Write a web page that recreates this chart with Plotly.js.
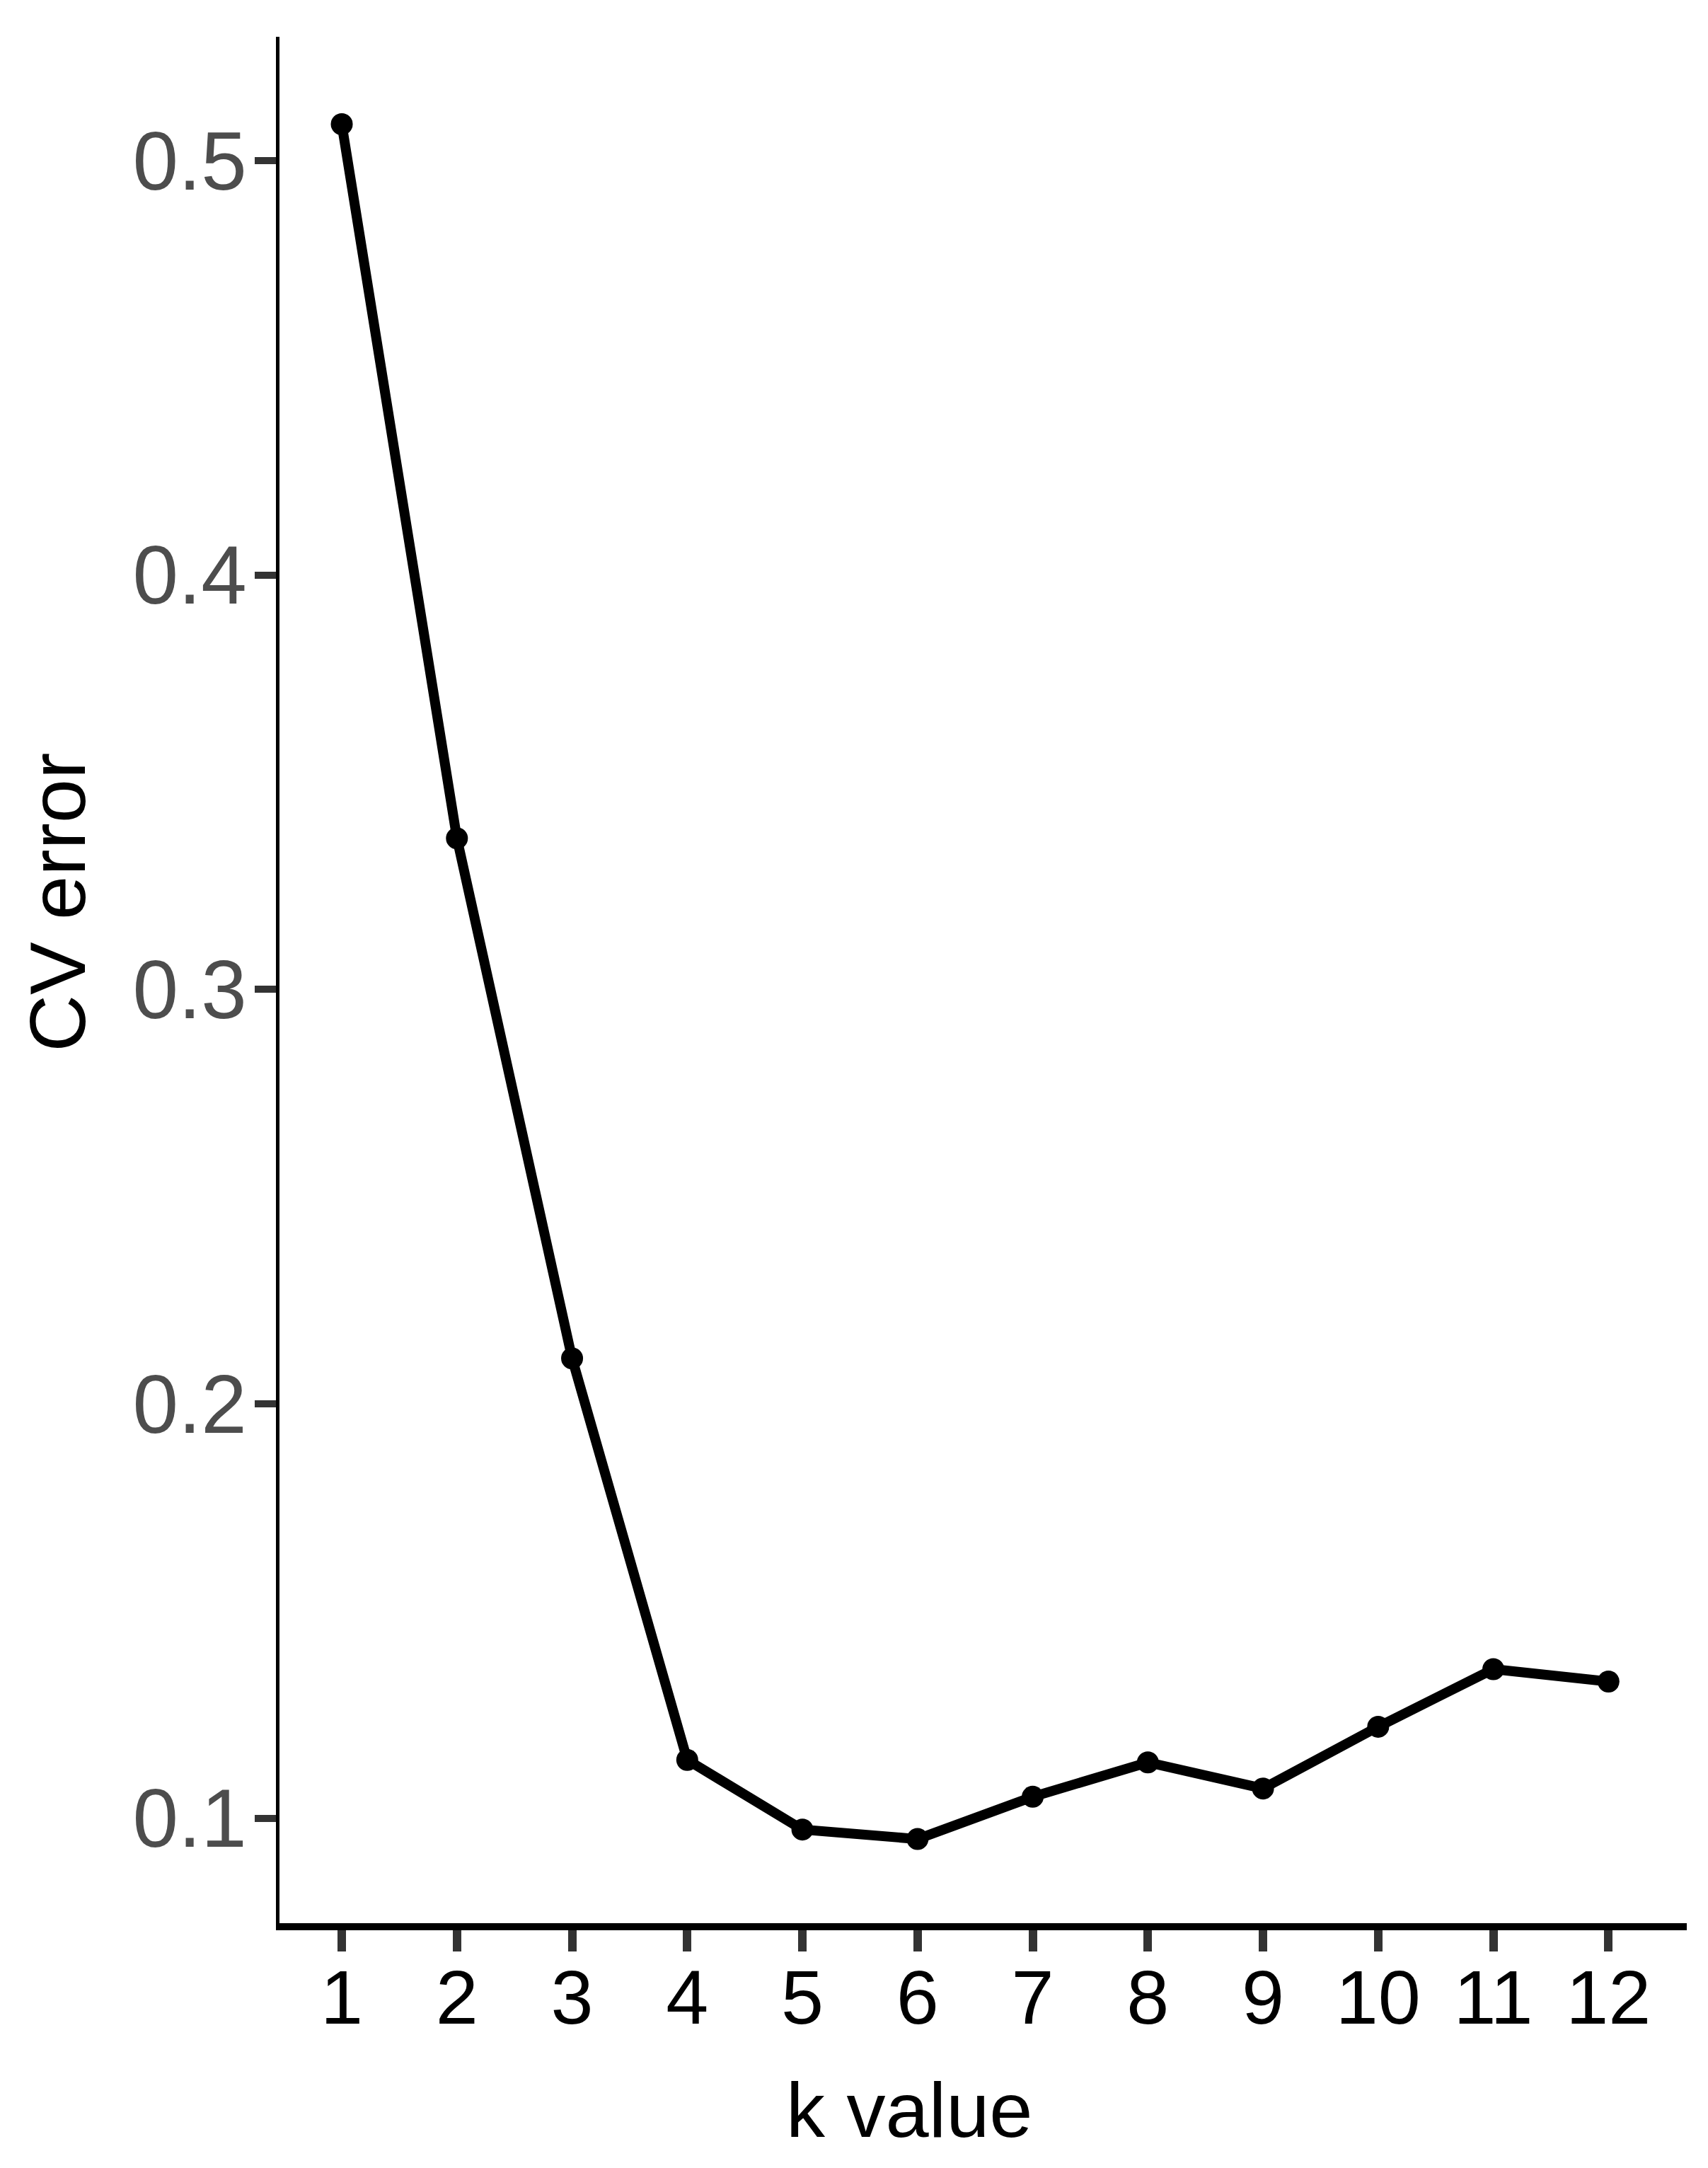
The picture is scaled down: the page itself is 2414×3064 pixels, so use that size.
<!DOCTYPE html>
<html>
<head>
<meta charset="utf-8">
<script src="https://cdn.plot.ly/plotly-3.0.1.min.js"></script>
<style>
  html, body { margin: 0; padding: 0; background: #ffffff; }
  #chart { width: 2414px; height: 3064px; }
</style>
</head>
<body>
<div id="chart"></div>
<script>
// Data
const kValues = [1, 2, 3, 4, 5, 6, 7, 8, 9, 10, 11, 12];
const cvError = [0.5088, 0.3365, 0.2110, 0.1141, 0.0973, 0.0950, 0.1052, 0.1135, 0.1072, 0.1221, 0.1360, 0.1330];
const yTickVals = [0.1, 0.2, 0.3, 0.4, 0.5];
const yTickText = ["0.1", "0.2", "0.3", "0.4", "0.5"];
const xTickText = ["1", "2", "3", "4", "5", "6", "7", "8", "9", "10", "11", "12"];
const xTitle = "k value";
const yTitle = "CV error";

const FONT = "Liberation Sans, Arial, Helvetica, sans-serif";

const trace = {
  x: kValues,
  y: cvError,
  type: "scatter",
  mode: "lines+markers",
  line: { color: "#000000", width: 14 },
  marker: { color: "#000000", size: 31 },
  cliponaxis: false,
  showlegend: false,
  hoverinfo: "x+y"
};

const layout = {
  width: 2414,
  height: 3064,
  paper_bgcolor: "#ffffff",
  plot_bgcolor: "#ffffff",
  margin: { l: 395, r: 30, t: 52, b: 346, pad: 0 },
  showlegend: false,
  font: { family: FONT, color: "#000000" },
  xaxis: {
    range: [0.459, 12.68],
    tickmode: "array",
    tickvals: kValues,
    ticktext: xTickText,
    showgrid: false,
    zeroline: false,
    showline: true,
    linecolor: "#000000",
    linewidth: 10,
    ticks: "outside",
    ticklen: 30,
    tickwidth: 12,
    tickcolor: "#333333",
    tickfont: { family: FONT, size: 108, color: "#000000" },
    ticklabelstandoff: -28
  },
  yaxis: {
    range: [0.0747, 0.5299],
    tickmode: "array",
    tickvals: yTickVals,
    ticktext: yTickText,
    showgrid: false,
    zeroline: false,
    showline: true,
    linecolor: "#000000",
    linewidth: 5,
    ticks: "outside",
    ticklen: 30,
    tickwidth: 10,
    tickcolor: "#333333",
    tickfont: { family: FONT, size: 116, color: "#4D4D4D" },
    ticklabelstandoff: -12
  },
  annotations: [
    {
      text: xTitle,
      xref: "paper", yref: "paper",
      x: 0.4475, y: -0.0987,
      xanchor: "center", yanchor: "middle",
      showarrow: false,
      font: { family: FONT, size: 110, color: "#000000" }
    },
    {
      text: yTitle,
      xref: "paper", yref: "paper",
      x: -0.1574, y: 0.5413,
      xanchor: "center", yanchor: "middle",
      textangle: -90,
      showarrow: false,
      font: { family: FONT, size: 112, color: "#000000" }
    }
  ]
};

Plotly.newPlot("chart", [trace], layout, { displayModeBar: false, staticPlot: true });
</script>
</body>
</html>
